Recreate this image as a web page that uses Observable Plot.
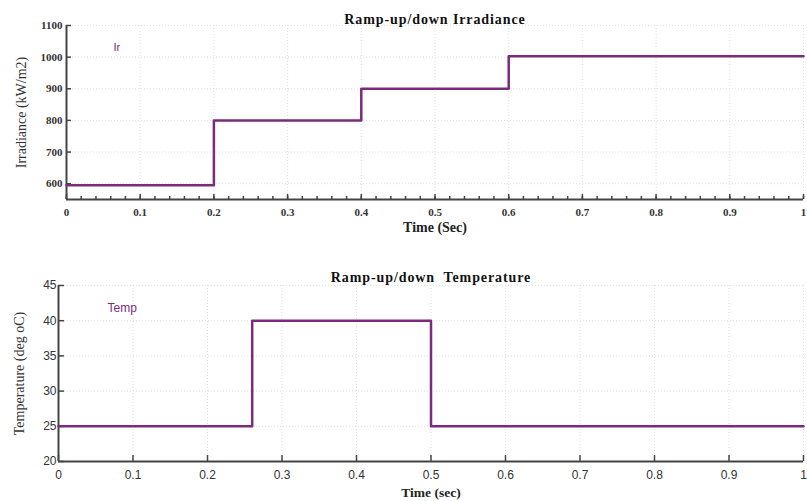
<!DOCTYPE html>
<html><head><meta charset="utf-8">
<script src="https://cdn.jsdelivr.net/npm/d3@7"></script>
<script src="https://cdn.jsdelivr.net/npm/@observablehq/plot@0.6"></script>
<style>
body{margin:0;background:#fff;}
#c svg{display:block;}
</style></head>
<body><div id="c"></div>
<script>
// Irradiance data
const irrTime = [0, 0.2, 0.4, 0.6, 1];
const irrValue = [595, 800, 900, 1003, 1003];
// Temperature data
const tempTime = [0, 0.26, 0.5, 1];
const tempValue = [25, 40, 25, 25];
const xMajor = [0, 0.1, 0.2, 0.3, 0.4, 0.5, 0.6, 0.7, 0.8, 0.9, 1];
const xMinor = d3.range(0, 51).map(i => i / 50);
const irrTicks = [600, 700, 800, 900, 1000, 1100];
const tempTicks = [20, 25, 30, 35, 40, 45];

const lineColor = "#7b2b7b";
const axisColor = "#444";
const gridColor = "#d8d8d8";
const serif = "Liberation Serif, Times New Roman, serif";
const sans = "Liberation Sans, Arial, sans-serif";

const irr = irrTime.map((t, i) => ({t, v: irrValue[i]}));
const temp = tempTime.map((t, i) => ({t, v: tempValue[i]}));

const irrChart = Plot.plot({
  width: 807, height: 245,
  marginTop: 25, marginBottom: 46, marginLeft: 66, marginRight: 4,
  style: {fontFamily: serif, background: "#fff"},
  x: {domain: [0, 1], label: null},
  y: {domain: [550, 1100], label: null},
  marks: [
    Plot.gridX(xMajor, {stroke: gridColor, strokeOpacity: 0.8, strokeDasharray: "1,2"}),
    Plot.gridY(irrTicks, {stroke: gridColor, strokeOpacity: 0.8, strokeDasharray: "1,2"}),
    Plot.axisX(xMinor, {tickSize: -3, tickFormat: () => "", stroke: axisColor, strokeWidth: 1.5, label: null}),
    Plot.axisX(xMajor, {tickSize: -5, tickPadding: 14, stroke: axisColor, strokeWidth: 1.5,
      tickFormat: d => String(d), fontWeight: "bold", fontSize: 11, fill: "#333", label: null}),
    Plot.axisX({ticks: [], label: "Time (Sec)", labelAnchor: "center", labelArrow: false, labelOffset: 32,
      fontWeight: "bold", fontSize: 14, fill: "#222"}),
    Plot.axisY(irrTicks, {tickSize: -5, tickPadding: 9, stroke: axisColor, strokeWidth: 1.5,
      tickFormat: d => String(d), fontWeight: "bold", fontSize: 11, fill: "#333", label: null}),
    Plot.axisY({ticks: [], label: "Irradiance (kW/m2)", labelAnchor: "center", labelArrow: false, labelOffset: 50,
      fontSize: 14, fill: "#333"}),
    Plot.ruleX([0], {stroke: axisColor, strokeWidth: 2}),
    Plot.ruleY([550], {stroke: axisColor, strokeWidth: 2}),
    Plot.line(irr, {x: "t", y: "v", curve: "step-after", stroke: lineColor, strokeWidth: 2.5}),
    Plot.text(["Ramp-up/down Irradiance"], {frameAnchor: "top", dy: -11, fontWeight: "bold", fontSize: 14, fill: "#111"}),
    Plot.text(["Ir"], {frameAnchor: "top-left", dx: 47, dy: 18, fill: lineColor, fontFamily: sans, fontSize: 11})
  ]
});

const tempChart = Plot.plot({
  width: 807, height: 256,
  marginTop: 40, marginBottom: 40, marginLeft: 58, marginRight: 4,
  style: {fontFamily: sans, background: "#fff"},
  x: {domain: [0, 1], label: null},
  y: {domain: [20, 45], label: null},
  marks: [
    Plot.gridX(xMajor, {stroke: gridColor, strokeOpacity: 0.8, strokeDasharray: "1,2"}),
    Plot.gridY(tempTicks, {stroke: gridColor, strokeOpacity: 0.8, strokeDasharray: "1,2"}),
    Plot.axisX(xMajor, {tickSize: -6, tickPadding: 15, stroke: axisColor, strokeWidth: 1.5,
      tickFormat: d => String(d), fontSize: 12, fill: "#333", label: null}),
    Plot.axisX({ticks: [], label: "Time (sec)", labelAnchor: "center", labelArrow: false, labelOffset: 35,
      fontFamily: serif, fontWeight: "bold", fontSize: 13.5, fill: "#222"}),
    Plot.axisY(tempTicks, {tickSize: -6, tickPadding: 8, stroke: axisColor, strokeWidth: 1.5,
      tickFormat: d => String(d), fontSize: 12, fill: "#333", label: null}),
    Plot.axisY({ticks: [], label: "Temperature (deg oC)", labelAnchor: "center", labelArrow: false, labelOffset: 44,
      fontFamily: serif, fontSize: 14, fill: "#333"}),
    Plot.ruleX([0], {stroke: axisColor, strokeWidth: 2}),
    Plot.ruleY([20], {stroke: axisColor, strokeWidth: 2}),
    Plot.line(temp, {x: "t", y: "v", curve: "step-after", stroke: lineColor, strokeWidth: 2.5}),
    Plot.text(["Ramp-up/down  Temperature"], {frameAnchor: "top", dy: -13, fontFamily: serif, fontWeight: "bold", fontSize: 14, fill: "#111"}),
    Plot.text(["Temp"], {frameAnchor: "top-left", dx: 49, dy: 18, textAnchor: "start", fill: lineColor, fontSize: 12})
  ]
});

// slightly loosen title letter spacing to match the original's typesetting
for (const [chart, txt] of [[irrChart, "Ramp-up/down Irradiance"], [tempChart, "Ramp-up/down  Temperature"]]) {
  chart.querySelectorAll("text").forEach(t => {
    if (t.textContent === txt) { t.style.letterSpacing = "0.9px"; t.setAttribute("xml:space", "preserve"); t.style.whiteSpace = "pre"; }
  });
}

document.getElementById("c").append(irrChart, tempChart);
</script></body></html>
